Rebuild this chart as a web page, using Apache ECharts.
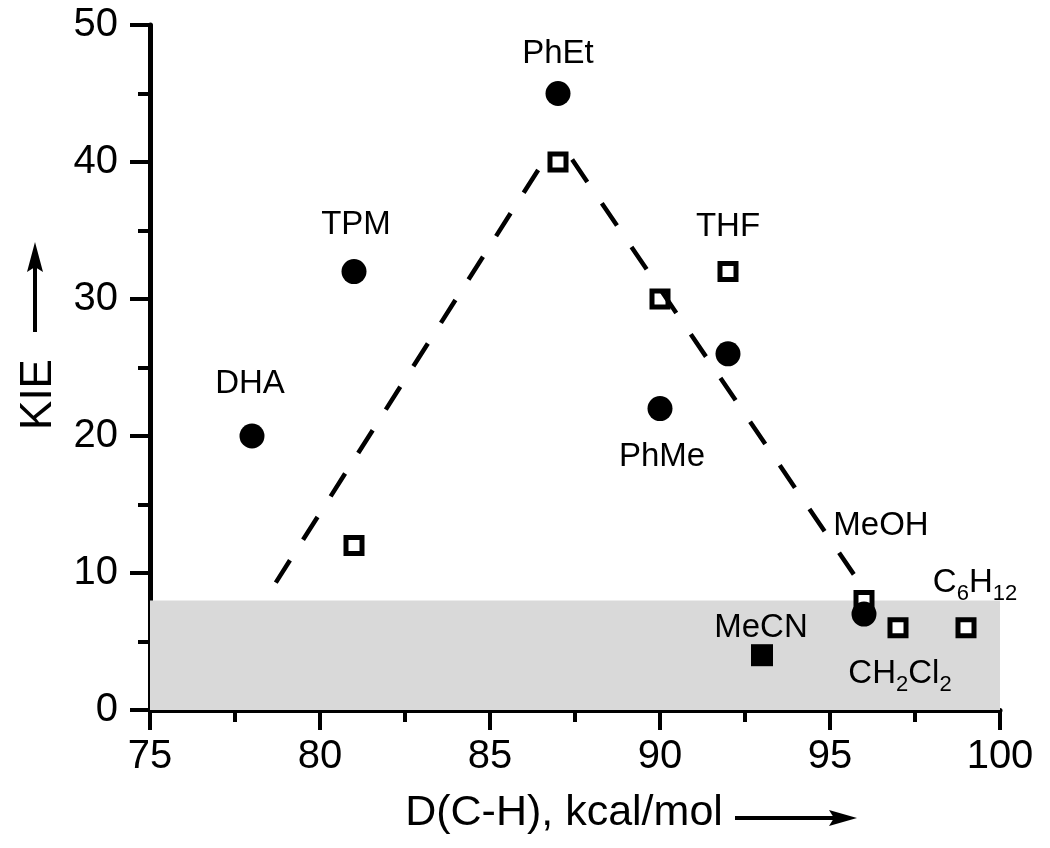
<!DOCTYPE html>
<html><head><meta charset="utf-8">
<script src="https://cdn.jsdelivr.net/npm/echarts@6/dist/echarts.min.js"></script>
<style>html,body{margin:0;padding:0;background:#fff}#c{width:1050px;height:848px}</style>
</head><body><div id="c"></div>
<script>
// ---- data ----
const circleX = [78, 81, 87, 90, 92, 96];
const circleY = [20, 32, 45, 22, 26, 7];
const circleNames = ['DHA', 'TPM', 'PhEt', 'PhMe', '', ''];
const openSqX = [81, 87, 90, 92, 96, 97, 99];
const openSqY = [12, 40, 30, 32, 8, 6, 6];
const openSqNames = ['', '', '', 'THF', 'MeOH', 'CH2Cl2', 'C6H12'];
const filledSqX = [93];
const filledSqY = [4];
const filledSqNames = ['MeCN'];
// dashed guide: left end, apex, right end
const fitX = [78.7, 87, 95.7];
const fitY = [9.3, 41.7, 9.9];
const bandY = [0, 8];
const bandX = [75, 100];
const xTickRange = [75, 100, 5];
const yTickRange = [0, 50, 10];

// ---- styling ----
const FONT = "'Liberation Sans', Arial, sans-serif";
const labelOffset = {
  DHA: [-2, -52], TPM: [2, -47], PhEt: [0, -40], PhMe: [2, 48],
  THF: [0, -45], MeOH: [17, -74], MeCN: [-1, -27],
  C6H12: [9, -45], CH2Cl2: [2, 46]
};
const labelText = {
  C6H12: '{m|C}{s|6}{m|H}{s|12}',
  CH2Cl2: '{m|CH}{s|2}{m|Cl}{s|2}'
};
const rich = {
  m: { fontSize: 33, lineHeight: 44, verticalAlign: 'middle', color: '#000', fontFamily: FONT },
  s: { fontSize: 22, lineHeight: 8, verticalAlign: 'bottom', color: '#000', fontFamily: FONT }
};

function items(xs, ys, names) {
  return xs.map((x, i) => {
    const n = names[i];
    const it = { value: [x, ys[i]], name: n };
    if (n) {
      it.label = {
        show: true, position: 'inside', offset: labelOffset[n],
        formatter: labelText[n] || n,
        fontSize: 33, color: '#000', fontFamily: FONT, opacity: 1,
        rich: labelText[n] ? rich : undefined
      };
    }
    return it;
  });
}

const axisCommon = {
  type: 'value',
  axisLine: { show: true, onZero: false, lineStyle: { color: '#000', width: 5 } },
  axisTick: { show: true, length: 20, lineStyle: { color: '#000', width: 4 } },
  minorTick: { show: true, splitNumber: 2, length: 12, lineStyle: { color: '#000', width: 4 } },
  splitLine: { show: false },
  minorSplitLine: { show: false },
};

// dash pattern drawn outward from the apex, opening with a gap
function dashFromApex(firstGap, dash, gap) {
  const arr = [0, firstGap];
  for (let i = 0; i < 12; i++) arr.push(dash, gap);
  return arr;
}
function dashStyle(firstGap, gap) {
  return { color: '#000', width: 4.5, type: dashFromApex(firstGap, 27, gap), cap: 'butt', opacity: 1 };
}

const chart = echarts.init(document.getElementById('c'), null, { renderer: 'canvas' });
chart.setOption({
  backgroundColor: '#fff',
  animation: false,
  grid: { left: 150, right: 50, top: 25, bottom: 138, containLabel: false, outerBoundsMode: 'none' },
  xAxis: Object.assign({}, axisCommon, {
    min: xTickRange[0], max: xTickRange[1], interval: xTickRange[2],
    axisLabel: { fontSize: 40, color: '#000', margin: 27, fontFamily: FONT },
    name: 'D(C-H), kcal/mol', nameLocation: 'middle', nameGap: 82,
    nameTextStyle: { fontSize: 43, color: '#000', fontFamily: FONT, padding: [0, 22, 0, 0] }
  }),
  yAxis: Object.assign({}, axisCommon, {
    min: yTickRange[0], max: yTickRange[1], interval: yTickRange[2],
    axisLabel: { fontSize: 40, color: '#000', margin: 32, fontFamily: FONT },
    name: 'KIE', nameLocation: 'middle', nameGap: 89,
    nameTextStyle: { fontSize: 44, color: '#000', fontFamily: FONT, padding: [0, 54, 0, 0] }
  }),
  graphic: [
    { type: 'line', shape: { x1: 35, y1: 332, x2: 35, y2: 262 }, style: { stroke: '#000', lineWidth: 4 } },
    { type: 'polygon', shape: { points: [[35, 242], [27, 272], [35, 267], [43, 272]] }, style: { fill: '#000' } },
    { type: 'line', shape: { x1: 735, y1: 818, x2: 840, y2: 818 }, style: { stroke: '#000', lineWidth: 4 } },
    { type: 'polygon', shape: { points: [[857, 818], [829, 810], [834, 818], [829, 826]] }, style: { fill: '#000' } }
  ],
  series: [
    {
      type: 'scatter', data: [], silent: true, z: 1,
      markArea: {
        silent: true,
        itemStyle: { color: '#d9d9d9', opacity: 1 },
        data: [[{ coord: [bandX[0], bandY[0]] }, { coord: [bandX[1], bandY[1]] }]]
      }
    },
    {
      type: 'scatter', z: 3, symbol: 'rect', symbolSize: 16,
      itemStyle: { color: '#fff', borderColor: '#000', borderWidth: 5, opacity: 1 },
      data: items(openSqX, openSqY, openSqNames)
    },
    {
      type: 'scatter', z: 4, symbol: 'circle', symbolSize: 25,
      itemStyle: { color: '#000', opacity: 1 },
      data: items(circleX, circleY, circleNames)
    },
    {
      type: 'scatter', z: 4, symbol: 'rect', symbolSize: 22,
      itemStyle: { color: '#000', opacity: 1 },
      data: items(filledSqX, filledSqY, filledSqNames)
    },
    {
      type: 'line', z: 5, showSymbol: false, symbol: 'none', silent: true,
      lineStyle: dashStyle(37, 24.4),
      data: [[fitX[1], fitY[1]], [fitX[0], fitY[0]]]
    },
    {
      type: 'line', z: 5, showSymbol: false, symbol: 'none', silent: true,
      lineStyle: dashStyle(25.2, 25.8),
      data: [[fitX[1], fitY[1]], [fitX[2], fitY[2]]]
    }
  ]
});
</script></body></html>
